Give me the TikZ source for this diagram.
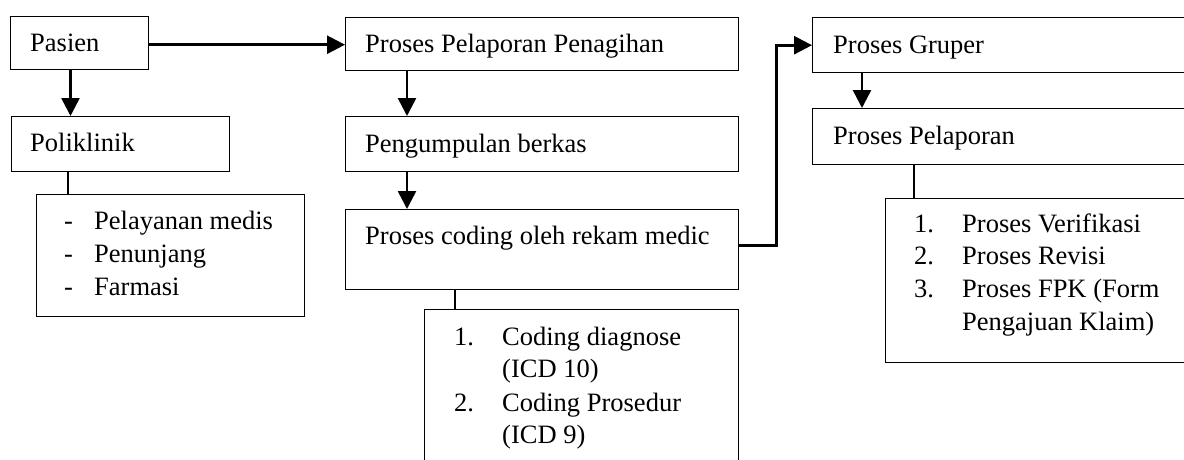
\documentclass[tikz,border=0pt]{standalone}
\usepackage{fontspec}
\setmainfont{Liberation Serif}
\usetikzlibrary{arrows.meta,calc}
\newcommand\diagfs{\fontsize{26.5}{33}\selectfont}
\begin{document}
\begin{tikzpicture}[x=1pt,y=-1pt,
  box/.style={draw, line width=1.4pt, rectangle, anchor=north west, inner sep=0pt},
  txt/.style={anchor=base west, inner sep=0pt, font=\diagfs},
  arr/.style={line width=2.6pt, -{Triangle[length=18pt,width=18pt]}},
  link/.style={line width=2pt}]
\useasboundingbox (0,0) rectangle (1184,459);
\clip (0,0) rectangle (1184,459);
% boxes
\node[box, minimum width=138, minimum height=53] (pasien) at (10,16) {};
\node[box, minimum width=218, minimum height=55] (poli) at (11,116) {};
\node[box, minimum width=268, minimum height=122] (polilist) at (36,194) {};
\node[box, minimum width=393, minimum height=53] (ppp) at (345,17) {};
\node[box, minimum width=393, minimum height=55] (kumpul) at (345,116) {};
\node[box, minimum width=393, minimum height=80] (coding) at (345,209) {};
\node[box, minimum width=314, minimum height=200] (codlist) at (424,309) {};
\node[box, minimum width=400, minimum height=55] (gruper) at (812,17) {};
\node[box, minimum width=400, minimum height=56] (pelap) at (812,108) {};
\node[box, minimum width=330, minimum height=164] (pellist) at (885,198) {};
% texts
\node[txt] (t1) at (30,51) {Pasien};
\node[txt] (t2) at (30,151) {Poliklinik};
\node[txt] (t3a) at (64,229) {-};
\node[txt] (t3b) at (94,229) {Pelayanan medis};
\node[txt] (t4a) at (64,262) {-};
\node[txt] (t4b) at (94,262) {Penunjang};
\node[txt] (t5a) at (64,295) {-};
\node[txt] (t5b) at (94,295) {Farmasi};
\node[txt] (t6) at (365,52) {Proses Pelaporan Penagihan};
\node[txt] (t7) at (365,152) {Pengumpulan berkas};
\node[txt] (t8) at (365,244) {Proses coding oleh rekam medic};
\node[txt] (t9a) at (454,345) {1.};
\node[txt] (t9b) at (502,345) {Coding diagnose};
\node[txt] (t10) at (502,377) {(ICD 10)};
\node[txt] (t11a) at (454,411) {2.};
\node[txt] (t11b) at (502,411) {Coding Prosedur};
\node[txt] (t12) at (502,443) {(ICD 9)};
\node[txt] (t13) at (833,53) {Proses Gruper};
\node[txt] (t14) at (833,144) {Proses Pelaporan};
\node[txt] (t15a) at (914,232) {1.};
\node[txt] (t15b) at (962,232) {Proses Verifikasi};
\node[txt] (t16a) at (914,264) {2.};
\node[txt] (t16b) at (962,264) {Proses Revisi};
\node[txt] (t17a) at (914,297) {3.};
\node[txt] (t17b) at (962,297) {Proses FPK (Form};
\node[txt] (t18) at (962,330) {Pengajuan Klaim)};
% connectors
\draw[arr] ([xshift=60.5]pasien.south west) -- ([xshift=60.5]pasien.south west |- poli.north);
\draw[arr] ([yshift=-1.5]pasien.east) -- ([yshift=-1.5]pasien.east -| ppp.west);
\draw[link] ([xshift=57]poli.south west) -- ([xshift=57]poli.south west |- polilist.north);
\draw[arr] ([xshift=62]ppp.south west) -- ([xshift=62]ppp.south west |- kumpul.north);
\draw[arr] ([xshift=62]kumpul.south west) -- ([xshift=62]kumpul.south west |- coding.north);
\draw[link] ([xshift=110]coding.south west) -- ([xshift=110]coding.south west |- codlist.north);
\draw[arr] ([yshift=4]coding.east) -- ++(37,0) |- (gruper.west);
\draw[arr] ([xshift=50]gruper.south west) -- ([xshift=50]gruper.south west |- pelap.north);
\draw[link] ([xshift=102]pelap.south west) -- ([xshift=102]pelap.south west |- pellist.north);
\end{tikzpicture}
\end{document}
